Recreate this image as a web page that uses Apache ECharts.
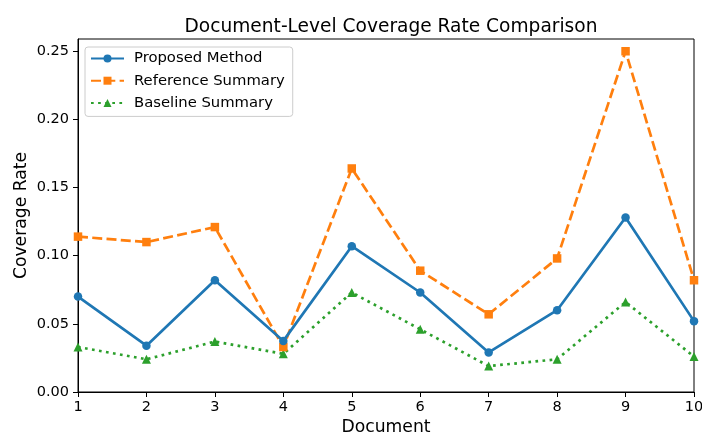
<!DOCTYPE html>
<html>
<head>
<meta charset="utf-8">
<script src="https://cdn.jsdelivr.net/npm/echarts@6/dist/echarts.min.js"></script>
<style>
  html, body { margin: 0; padding: 0; background: #fff; }
  #chart { width: 702px; height: 435px; }
</style>
</head>
<body>
<div id="chart"></div>
<script>
const docs = [1, 2, 3, 4, 5, 6, 7, 8, 9, 10];
const proposed = [0.070, 0.034, 0.082, 0.0375, 0.107, 0.073, 0.029, 0.060, 0.128, 0.052];
const reference = [0.114, 0.110, 0.121, 0.033, 0.164, 0.089, 0.057, 0.098, 0.250, 0.082];
const baseline = [0.033, 0.024, 0.037, 0.028, 0.073, 0.046, 0.019, 0.024, 0.066, 0.026];

const font = "DejaVu Sans";
const pairs = (vals) => docs.map((d, i) => [d, vals[i]]);

const chart = echarts.init(document.getElementById("chart"));

chart.setOption({
  animation: false,
  textStyle: { fontFamily: font },
  title: {
    text: "Document-Level Coverage Rate Comparison",
    left: 386,
    textAlign: "center",
    top: 13,
    textStyle: { fontFamily: font, fontSize: 18.6, fontWeight: "normal", color: "#000" },
  },
  grid: {
    left: 78, right: 8, top: 39, bottom: 43,
    outerBoundsMode: "none",
    show: true, borderColor: "#000", borderWidth: 1, backgroundColor: "transparent",
  },
  legend: {
    orient: "vertical",
    left: 85, top: 47,
    padding: [4, 8, 6, 5],
    itemGap: 7.2,
    itemWidth: 33, itemHeight: 10,
    backgroundColor: "#fff",
    borderColor: "#cccccc", borderWidth: 1, borderRadius: 3,
    textStyle: { fontFamily: font, fontSize: 14.8, lineHeight: 15, color: "#000", padding: [0, 0, 0, 5] },
    data: ["Proposed Method", "Reference Summary", "Baseline Summary"],
  },
  xAxis: {
    type: "value",
    min: 1, max: 10, interval: 1,
    name: "Document",
    nameLocation: "middle",
    nameGap: 27,
    nameMoveOverlap: false,
    nameTextStyle: { fontFamily: font, fontSize: 17.2, color: "#000" },
    axisLine: { lineStyle: { color: "#000", width: 1 } },
    axisTick: { show: true, length: 5, lineStyle: { color: "#000" } },
    axisLabel: { fontFamily: font, fontSize: 14.5, color: "#000", margin: 8 },
    splitLine: { show: false },
  },
  yAxis: {
    type: "value",
    min: 0, max: 0.259, interval: 0.05,
    name: "Coverage Rate",
    nameLocation: "middle",
    nameGap: 48,
    nameMoveOverlap: false,
    nameTextStyle: { fontFamily: font, fontSize: 17.2, color: "#000" },
    axisLine: { show: true, lineStyle: { color: "#000", width: 1 } },
    axisTick: { show: true, length: 5, lineStyle: { color: "#000" } },
    axisLabel: {
      fontFamily: font, fontSize: 14.5, color: "#000", margin: 9,
      showMaxLabel: false,
      formatter: (v) => v.toFixed(2),
    },
    splitLine: { show: false },
  },
  series: [
    {
      name: "Proposed Method",
      type: "line",
      data: pairs(proposed),
      symbol: "circle", symbolSize: 8.5,
      itemStyle: { color: "#1f77b4" },
      lineStyle: { width: 2.7, color: "#1f77b4" },
      z: 3,
    },
    {
      name: "Reference Summary",
      type: "line",
      data: pairs(reference),
      symbol: "rect", symbolSize: 8.5,
      itemStyle: { color: "#ff7f0e" },
      lineStyle: { width: 2.7, color: "#ff7f0e", type: [10, 4.3] },
      z: 2,
    },
    {
      name: "Baseline Summary",
      type: "line",
      data: pairs(baseline),
      symbol: "triangle", symbolSize: 9,
      itemStyle: { color: "#2ca02c" },
      lineStyle: { width: 2.7, color: "#2ca02c", type: [2.7, 4.4] },
      z: 1,
    },
  ],
});
</script>
</body>
</html>
